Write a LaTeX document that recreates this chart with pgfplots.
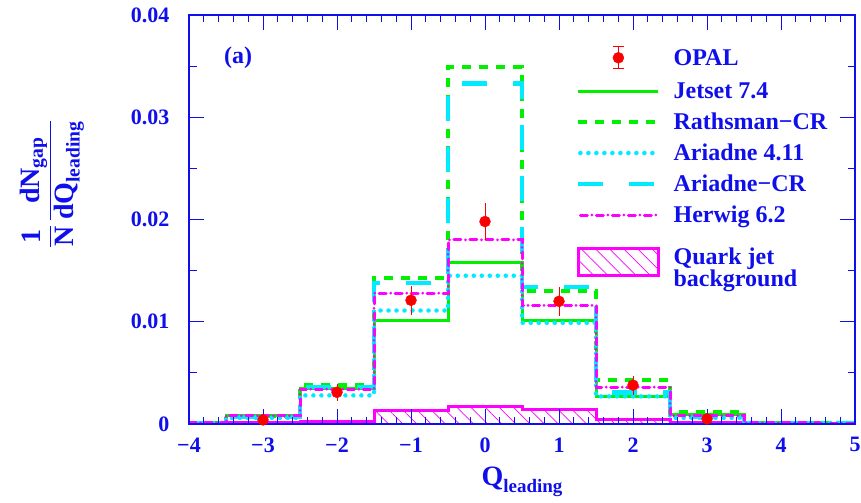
\documentclass[border=0pt]{standalone}
\usepackage{amsmath}
\usepackage{fontspec}
\setmainfont{Liberation Serif}
\usepackage{pgfplots}
\pgfplotsset{compat=1.18}
\usetikzlibrary{patterns.meta}
\definecolor{tblue}{RGB}{15,15,235}
\definecolor{hgreen}{RGB}{0,240,0}
\definecolor{hcyan}{RGB}{0,235,255}
\definecolor{hmag}{RGB}{255,0,255}
\definecolor{hred}{RGB}{250,0,0}
\newcommand{\ls}{\rule[-6pt]{0pt}{23pt}}
\pgfplotsset{
  hline/.style={legend image code/.code={\draw[##1] (0pt,0pt) -- (80pt,0pt);}},
  hdotline/.style={legend image code/.code={\draw[##1] (2pt,0pt) -- (80pt,0pt);}},
  hbox/.style={legend image code/.code={\draw[hmag, line width=3pt, pattern={Lines[angle=-45, distance=10pt, line width=0.7pt]}, pattern color=hmag] (0pt,-20pt) rectangle (80pt,7pt);}},
  hopal/.style={legend image code/.code={
    \draw[hred, line width=1pt] (40pt,-11pt) -- (40pt,11pt);
    \draw[hred, line width=1pt] (34.5pt,-11pt) -- (45.5pt,-11pt);
    \draw[hred, line width=1pt] (34.5pt,11pt) -- (45.5pt,11pt);
    \fill[hred] (40pt,0pt) circle (5.5pt);}},
}
\begin{document}
\begin{tikzpicture}
\begin{axis}[
  width=666pt, height=409pt, scale only axis,
  xmin=-4, xmax=5, ymin=0, ymax=0.04,
  scaled y ticks=false,
  axis on top,
  xtick={-4,...,5}, xticklabels={−4,−3,−2,−1,0,1,2,3,4,5},
  ytick={0,0.01,0.02,0.03,0.04}, yticklabels={0,0.01,0.02,0.03,0.04},
  minor x tick num=4, minor y tick num=1,
  tick align=inside, tickwidth=15pt, subtickwidth=7.5pt,
  xtick pos=both, ytick pos=both,
  every outer x axis line/.append style={tblue, line width=1.2pt},
  every outer y axis line/.append style={tblue, line width=1.2pt},
  every tick/.append style={tblue, line width=0.9pt},
  tick label style={font=\fontsize{22}{24}\selectfont\bfseries, text=tblue},
  /pgf/number format/assume math mode=true,
  xticklabel style={yshift=-10pt},
  yticklabel style={xshift=-16pt},
  xlabel={\fontsize{28}{30}\selectfont\bfseries Q\raisebox{-7pt}{\fontsize{19}{20}\selectfont leading}},
  xlabel style={at={(axis description cs:0.5,0)}, anchor=north, yshift=-43pt, inner sep=0pt, text=tblue},
  ylabel={\fontsize{28}{30}\selectfont\bfseries $\dfrac{\text{1}}{\text{N}}\,\dfrac{\text{dN}_{\text{gap}}}{\text{dQ}_{\text{leading}}}$},
  ylabel style={at={(axis description cs:-0.206,0.587)}, anchor=center, text=tblue},
  legend cell align=left,
  legend style={at={(axis description cs:0.581,0.924)}, anchor=north west, draw=none, fill=none, inner sep=0pt,
    font=\fontsize{24}{26}\selectfont\bfseries, text=tblue, row sep=12.5pt,
    nodes={inner sep=0pt},
    /tikz/every odd column/.append style={column sep=13pt}},
]
% legend images (in legend order)
\addlegendimage{hopal}
\addlegendentry{\ls OPAL}
\addlegendimage{hgreen, line width=3pt, hline}
\addlegendentry{\ls Jetset 7.4}
\addlegendimage{hgreen, line width=4pt, dash pattern=on 9pt off 8pt, hline}
\addlegendentry{\ls Rathsman−CR}
\addlegendimage{hcyan, line width=4.5pt, line cap=round, dash pattern=on 0pt off 8pt, hdotline}
\addlegendentry{\ls Ariadne 4.11}
\addlegendimage{hcyan, line width=4.5pt, dash pattern=on 25pt off 26pt, hline}
\addlegendentry{\ls Ariadne−CR}
\addlegendimage{hmag, line width=3pt, line cap=round, dash pattern=on 7pt off 4.5pt on 0pt off 4.5pt, hdotline}
\addlegendentry{\ls Herwig 6.2}
\addlegendimage{hbox}
\addlegendentry{\begin{tabular}{@{}l@{}}\rule{0pt}{28pt}Quark jet\\[-4pt]background\end{tabular}}

% Quark jet background
\addplot[const plot, forget plot, hmag, line width=3pt, pattern={Lines[angle=-45, distance=10pt, line width=0.7pt]}, pattern color=hmag]
 coordinates {(-4,0.00013) (-2.5,0.0002) (-1.5,0.0013) (-0.5,0.00176) (0.5,0.00137) (1.5,0.00046) (2.5,0.00017) (3.5,0.00017)} \closedcycle;
% Jetset 7.4
\addplot[const plot, forget plot, hgreen, line width=3pt]
 coordinates {(-4,0.0001) (-3.5,0.0008) (-2.5,0.0035) (-1.5,0.0101) (-0.5,0.0158) (0.5,0.0101) (1.5,0.0027) (2.5,0.0009) (3.5,0.0001) (4.5,0.00005) (5,0.00005)};
% Rathsman-CR
\addplot[const plot, forget plot, hgreen, line width=4pt, dash pattern=on 9pt off 8pt]
 coordinates {(-4,0.0001) (-3.5,0.0008) (-2.5,0.0038) (-1.5,0.0143) (-0.5,0.0349) (0.5,0.0130) (1.5,0.0043) (2.5,0.0012) (3.5,0.0001) (4.5,0.0001) (5,0.0001)};
% Ariadne-CR
\addplot[const plot, forget plot, hcyan, line width=4.5pt, dash pattern=on 25pt off 26pt]
 coordinates {(-4,0.0001) (-3.5,0.0007) (-2.5,0.0036) (-1.5,0.0138) (-0.5,0.0333) (0.5,0.0134) (1.5,0.0031) (2.5,0.0007) (3.5,0.0001) (4.5,0.0001) (5,0.0001)};
% Ariadne 4.11
\addplot[const plot, forget plot, hcyan, line width=4.5pt, line cap=round, dash pattern=on 0pt off 8pt]
 coordinates {(-4,0.0001) (-3.5,0.0006) (-2.5,0.0028) (-1.5,0.0111) (-0.5,0.0145) (0.5,0.0099) (1.5,0.0027) (2.5,0.0006) (3.5,0.0001) (4.5,0.0001) (5,0.0001)};
% Herwig 6.2
\addplot[const plot, forget plot, hmag, line width=3pt, line cap=round, dash pattern=on 7pt off 4.5pt on 0pt off 4.5pt]
 coordinates {(-4,0.0001) (-3.5,0.0008) (-2.5,0.0034) (-1.5,0.0128) (-0.5,0.0180) (0.5,0.0116) (1.5,0.0036) (2.5,0.0008) (3.5,0.0001) (4.5,0.00005) (5,0.00005)};
% OPAL data
\addplot[forget plot, only marks, mark=*, mark size=5.5pt, color=hred,
  error bars/.cd, y dir=both, y explicit,
  error bar style={line width=1pt, hred},
  error mark options={line width=1pt, mark size=5.5pt, hred}]
 coordinates {(-3,0.0004) +- (0,0.0002) (-2,0.0031) +- (0,0.0003) (-1,0.0121) +- (0,0.0009) (0,0.0198) +- (0,0.00125) (1,0.0120) +- (0,0.0009) (2,0.0038) +- (0,0.0004) (3,0.0005) +- (0,0.0002)};
% tick marks of the frame (inside, on all four sides)
\pgfplotsinvokeforeach{-4,-3,-2,-1,0,1,2,3,4,5}{
  \draw[tblue, line width=0.9pt] (axis cs:#1,0) -- ++(0pt,15pt);
  \draw[tblue, line width=0.9pt] (axis cs:#1,0.04) -- ++(0pt,-15pt);}
\pgfplotsinvokeforeach{-3.8,-3.6,-3.4,-3.2,-2.8,-2.6,-2.4,-2.2,-1.8,-1.6,-1.4,-1.2,-0.8,-0.6,-0.4,-0.2,0.2,0.4,0.6,0.8,1.2,1.4,1.6,1.8,2.2,2.4,2.6,2.8,3.2,3.4,3.6,3.8,4.2,4.4,4.6,4.8}{
  \draw[tblue, line width=0.9pt] (axis cs:#1,0) -- ++(0pt,7.5pt);
  \draw[tblue, line width=0.9pt] (axis cs:#1,0.04) -- ++(0pt,-7.5pt);}
\pgfplotsinvokeforeach{0.01,0.02,0.03}{
  \draw[tblue, line width=0.9pt] (axis cs:-4,#1) -- ++(15pt,0pt);
  \draw[tblue, line width=0.9pt] (axis cs:5,#1) -- ++(-15pt,0pt);}
\pgfplotsinvokeforeach{0.005,0.015,0.025,0.035}{
  \draw[tblue, line width=0.9pt] (axis cs:-4,#1) -- ++(7.5pt,0pt);
  \draw[tblue, line width=0.9pt] (axis cs:5,#1) -- ++(-7.5pt,0pt);}
\node[text=tblue, font=\fontsize{24}{26}\selectfont\bfseries] at (axis description cs:0.0736,0.895) {(a)};
\end{axis}
\pgfresetboundingbox
\path ([shift={(-189pt,-78pt)}]current axis.south west) rectangle ([shift={(6pt,15pt)}]current axis.north east);
\end{tikzpicture}
\end{document}
